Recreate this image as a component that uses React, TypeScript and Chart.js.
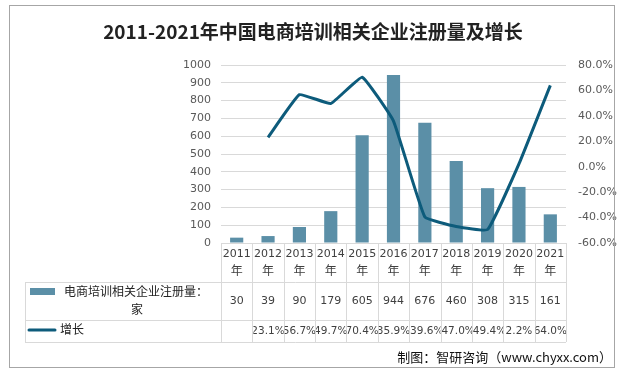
import React, { useEffect, useRef } from "react";
import { Chart, registerables } from "chart.js";

Chart.register(...registerables);

const title = "2011-2021年中国电商培训相关企业注册量及增长";
const source = "制图：智研咨询（www.chyxx.com）";
const years = ["2011", "2012", "2013", "2014", "2015", "2016", "2017", "2018", "2019", "2020", "2021"];
const yearSuffix = "年";
const barLabelLines = ["电商培训相关企业注册量：", "家"];
const lineLabel = "增长";
const registrations = [30, 39, 90, 179, 605, 944, 676, 460, 308, 315, 161];
const growth: (number | null)[] = [null, 23.1, 56.7, 49.7, 70.4, 35.9, -39.6, -47.0, -49.4, 2.2, 64.0];
const leftAxis = { min: 0, max: 1000, step: 100 };
const rightAxis = { min: -60, max: 80, step: 20 };

const BAR_COLOR = "#5B8FA7";
const LINE_COLOR = "#0D5B7B";
const GRID = "#D9D9D9";
const TEXT = "#404040";

const tablePlugin = {
  id: "dataTable",
  beforeDraw(chart: any) {
    const ctx = chart.ctx;
    ctx.save();
    ctx.fillStyle = "#ffffff";
    ctx.fillRect(0, 0, chart.width, chart.height);
    ctx.restore();
  },
  afterDraw(chart: any) {
    const ctx = chart.ctx;
    const { left, right, bottom } = chart.chartArea;
    const n = years.length;
    const w = (right - left) / n;
    const r0 = bottom;
    const r1 = bottom + 39;
    const r2 = r1 + 38;
    const r3 = r2 + 22;
    const tableLeft = 25;
    ctx.save();
    // outer border
    ctx.strokeStyle = "#A6A6A6";
    ctx.lineWidth = 1;
    ctx.strokeRect(9.5, 5.5, 605, 362);
    // title
    ctx.fillStyle = "#222";
    ctx.font = "bold 19px 'Noto Sans CJK SC'";
    ctx.textAlign = "center";
    ctx.textBaseline = "middle";
    ctx.fillText(title, 313, 32);
    // table grid
    ctx.strokeStyle = GRID;
    ctx.lineWidth = 1;
    ctx.beginPath();
    for (let i = 0; i <= n; i++) {
      const x = Math.round(left + i * w) + 0.5;
      ctx.moveTo(x, r0);
      ctx.lineTo(x, r3);
    }
    for (const y of [r1, r2, r3]) {
      ctx.moveTo(tableLeft, Math.round(y) + 0.5);
      ctx.lineTo(right, Math.round(y) + 0.5);
    }
    ctx.moveTo(tableLeft + 0.5, r1);
    ctx.lineTo(tableLeft + 0.5, r3);
    ctx.stroke();
    // header & values
    ctx.fillStyle = TEXT;
    ctx.textAlign = "center";
    ctx.textBaseline = "middle";
    for (let i = 0; i < n; i++) {
      const cx = left + (i + 0.5) * w;
      ctx.font = "11px 'DejaVu Sans', 'Noto Sans CJK SC'";
      ctx.fillText(years[i], cx, r0 + 11);
      ctx.font = "12px 'Noto Sans CJK SC'";
      ctx.fillText(yearSuffix, cx, r0 + 27);
      ctx.font = "11px 'DejaVu Sans'";
      ctx.fillText(String(registrations[i]), cx, r1 + 19);
      const g = growth[i];
      if (g !== null) {
        ctx.save();
        ctx.beginPath();
        ctx.rect(left + i * w + 1, r2, w - 1, r3 - r2);
        ctx.clip();
        ctx.font = "10.5px 'DejaVu Sans'";
        ctx.fillText(g.toFixed(1) + "%", cx, r2 + 11);
        ctx.restore();
      }
    }
    // legend cells
    ctx.fillStyle = BAR_COLOR;
    ctx.fillRect(30, r1 + 6, 25, 7);
    ctx.fillStyle = "#222";
    ctx.font = "12px 'Noto Sans CJK SC'";
    ctx.fillText(barLabelLines[0], 136, r1 + 9);
    ctx.fillText(barLabelLines[1], 137, r1 + 27);
    ctx.strokeStyle = LINE_COLOR;
    ctx.lineWidth = 3;
    ctx.lineCap = "round";
    ctx.beginPath();
    ctx.moveTo(29, r2 + 10);
    ctx.lineTo(55, r2 + 10);
    ctx.stroke();
    ctx.textAlign = "left";
    ctx.fillText(lineLabel, 60, r2 + 9);
    // source
    ctx.textAlign = "right";
    ctx.font = "13px 'Noto Sans CJK SC'";
    ctx.fillStyle = "#111";
    ctx.fillText(source, 612, 357);
    ctx.restore();
  },
};

export default function App() {
  const ref = useRef<HTMLCanvasElement>(null);
  useEffect(() => {
    if (!ref.current) return;
    const chart = new Chart(ref.current, {
      type: "bar",
      data: {
        labels: years,
        datasets: [
          {
            type: "line",
            label: lineLabel,
            data: growth,
            yAxisID: "y1",
            borderColor: LINE_COLOR,
            borderWidth: 3,
            pointRadius: 0,
            tension: 0.1,
            fill: false,
            order: 1,
          } as any,
          {
            type: "bar",
            label: barLabelLines.join(""),
            data: registrations,
            yAxisID: "y",
            backgroundColor: BAR_COLOR,
            categoryPercentage: 1,
            barPercentage: 0.42,
            order: 2,
          },
        ],
      },
      plugins: [tablePlugin],
      options: {
        responsive: false,
        animation: false,
        layout: { padding: { left: 0, right: 0, top: 65, bottom: 130 } },
        plugins: { legend: { display: false }, tooltip: { enabled: false }, title: { display: false } },
        scales: {
          x: { display: false, offset: true },
          y: {
            position: "left",
            min: leftAxis.min,
            max: leftAxis.max,
            ticks: {
              stepSize: leftAxis.step,
              color: "#595959",
              font: { size: 11, family: "'DejaVu Sans'" },
              padding: 10,
              callback: (v: any) => String(v),
            },
            grid: { color: GRID, drawTicks: false },
            border: { display: false },
            afterFit: (s: any) => { s.width = 221; },
          },
          y1: {
            position: "right",
            min: rightAxis.min,
            max: rightAxis.max,
            ticks: {
              stepSize: rightAxis.step,
              color: "#595959",
              font: { size: 11, family: "'DejaVu Sans'" },
              padding: 12,
              callback: (v: any) => Number(v).toFixed(1) + "%",
            },
            grid: { display: false, drawTicks: false },
            border: { display: false },
            afterFit: (s: any) => { s.width = 58; },
          },
        },
      },
    });
    return () => chart.destroy();
  }, []);
  return (
    <div style={{ position: "fixed", left: 0, top: 0, width: 624, height: 373 }}>
      <canvas ref={ref} width={624} height={373} style={{ width: 624, height: 373 }} />
    </div>
  );
}
